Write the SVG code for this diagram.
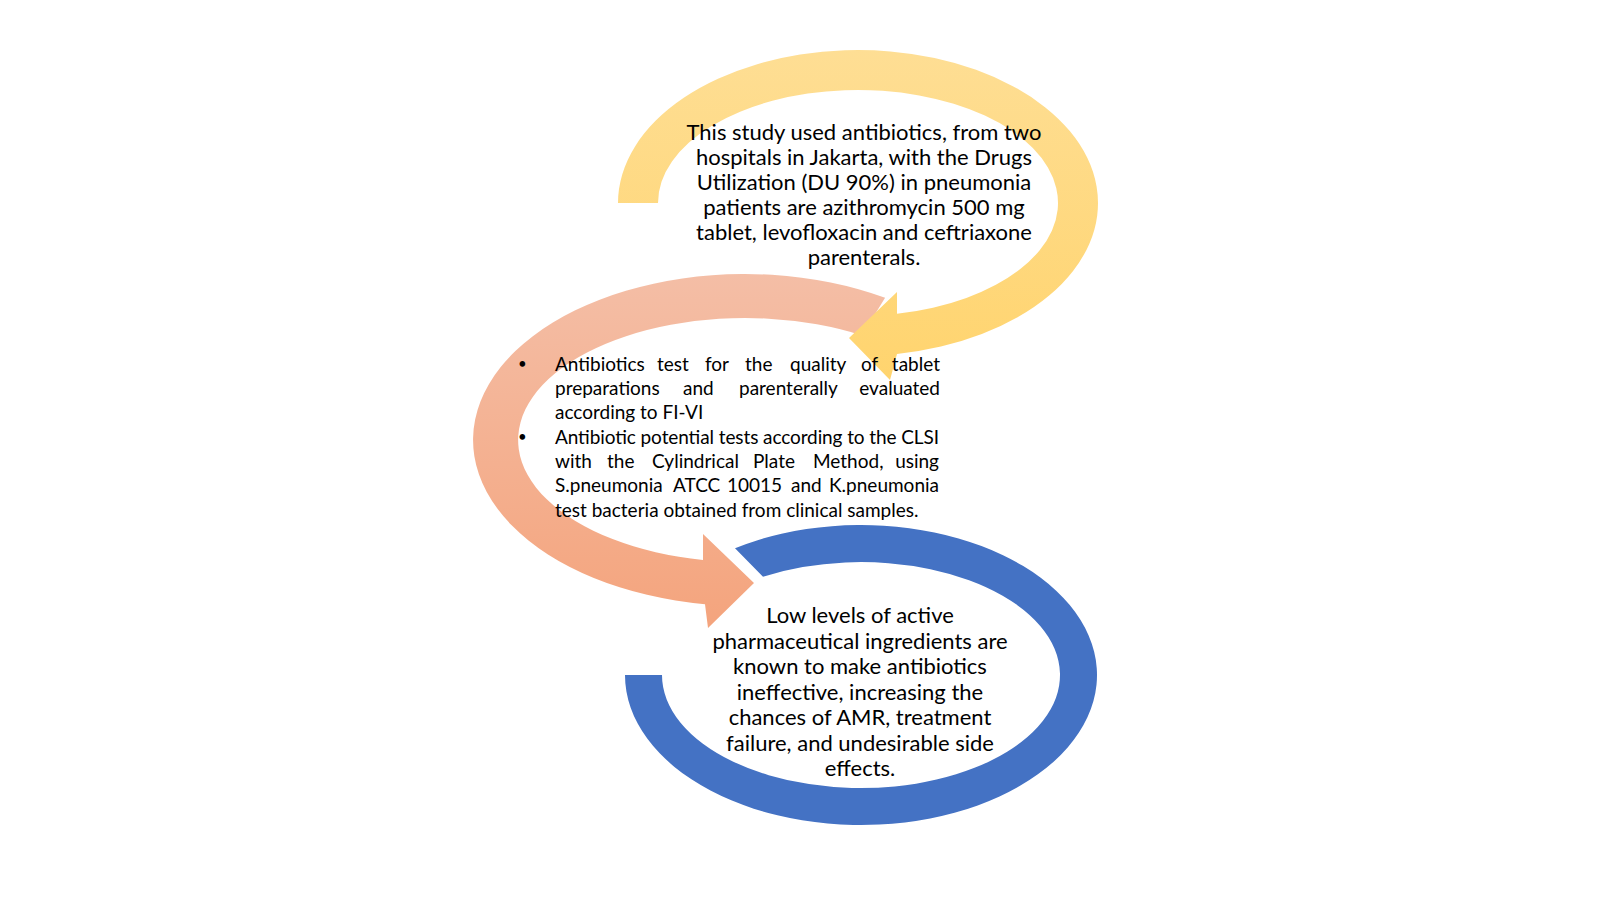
<svg xmlns="http://www.w3.org/2000/svg" width="1600" height="900" viewBox="0 0 1600 900">
<defs>
<linearGradient id="gY" x1="0" y1="0" x2="0" y2="1">
<stop offset="0" stop-color="#FEDE94"/>
<stop offset="1" stop-color="#FFD46E"/>
</linearGradient>
<linearGradient id="gS" x1="0" y1="0" x2="0" y2="1">
<stop offset="0" stop-color="#F4BEA6"/>
<stop offset="1" stop-color="#F4A47D"/>
</linearGradient>
<style>
.t{font-family:Lato,"Liberation Sans",sans-serif;fill:#000;}
.c{font-size:22px;text-anchor:middle;}
.b{font-size:19px;}
.e{text-anchor:end;}
.d{font-size:15px;}
</style>
</defs>
<rect width="1600" height="900" fill="#fff"/>
<g id="step2">
<path d="M885.1,297.7 A272,166 0 1 0 705,604.2 L708,628 L754,583 L703,534 L703,559.9 A227,122 0 1 1 861.9,335.4 Z" fill="url(#gS)"/>
</g>
<g id="step3">
<path d="M735,548.2 A236,150 0 1 1 625,675 L662,675 A199,113 0 1 0 763,576.7 Z" fill="#4472C4"/>
<text class="t c"><tspan x="860" y="623">Low levels of active</tspan><tspan x="860" y="648.5">pharmaceutical ingredients are</tspan><tspan x="860" y="674">known to make antibiotics</tspan><tspan x="860" y="699.5">ineffective, increasing the</tspan><tspan x="860" y="725">chances of AMR, treatment</tspan><tspan x="860" y="750.5">failure, and undesirable side</tspan><tspan x="860" y="776">effects.</tspan></text>
</g>
<g id="step1">
<path d="M618,203 A240,153 0 1 1 897,354 L890,380 L849,338 L897,292 L897,313.8 A200,113 0 1 0 658,203 Z" fill="url(#gY)"/>
<text class="t c"><tspan x="864" y="140">This study used antibiotics, from two</tspan><tspan x="864" y="165">hospitals in Jakarta, with the Drugs</tspan><tspan x="864" y="190">Utilization (DU 90%) in pneumonia</tspan><tspan x="864" y="215">patients are azithromycin 500 mg</tspan><tspan x="864" y="240">tablet, levofloxacin and ceftriaxone</tspan><tspan x="864" y="265">parenterals.</tspan></text>
</g>
<g id="step2-label" class="t b">
<text class="d" x="518" y="369">•</text>
<text class="d" x="518" y="441.5">•</text>
<text y="371"><tspan x="555">Antibiotics</tspan><tspan x="657">test</tspan><tspan x="705">for</tspan><tspan x="745">the</tspan><tspan x="790">quality</tspan><tspan x="861">of</tspan></text>
<text class="e" x="940" y="371">tablet</text>
<text y="395"><tspan x="555">preparations</tspan><tspan x="683">and</tspan><tspan x="739">parenterally</tspan></text>
<text class="e" x="940" y="395">evaluated</text>
<text x="555" y="419.3">according to FI-VI</text>
<text x="555" y="443.5" textLength="384" lengthAdjust="spacing">Antibiotic potential tests according to the CLSI</text>
<text y="467.8"><tspan x="555">with</tspan><tspan x="607">the</tspan><tspan x="652">Cylindrical</tspan><tspan x="753">Plate</tspan><tspan x="813">Method,</tspan></text>
<text class="e" x="939" y="467.8">using</text>
<text y="492"><tspan x="555">S.pneumonia</tspan><tspan x="673">ATCC</tspan><tspan x="727">10015</tspan><tspan x="791">and</tspan></text>
<text class="e" x="939" y="492">K.pneumonia</text>
<text x="555" y="516.5">test bacteria obtained from clinical samples.</text>
</g>
</svg>
